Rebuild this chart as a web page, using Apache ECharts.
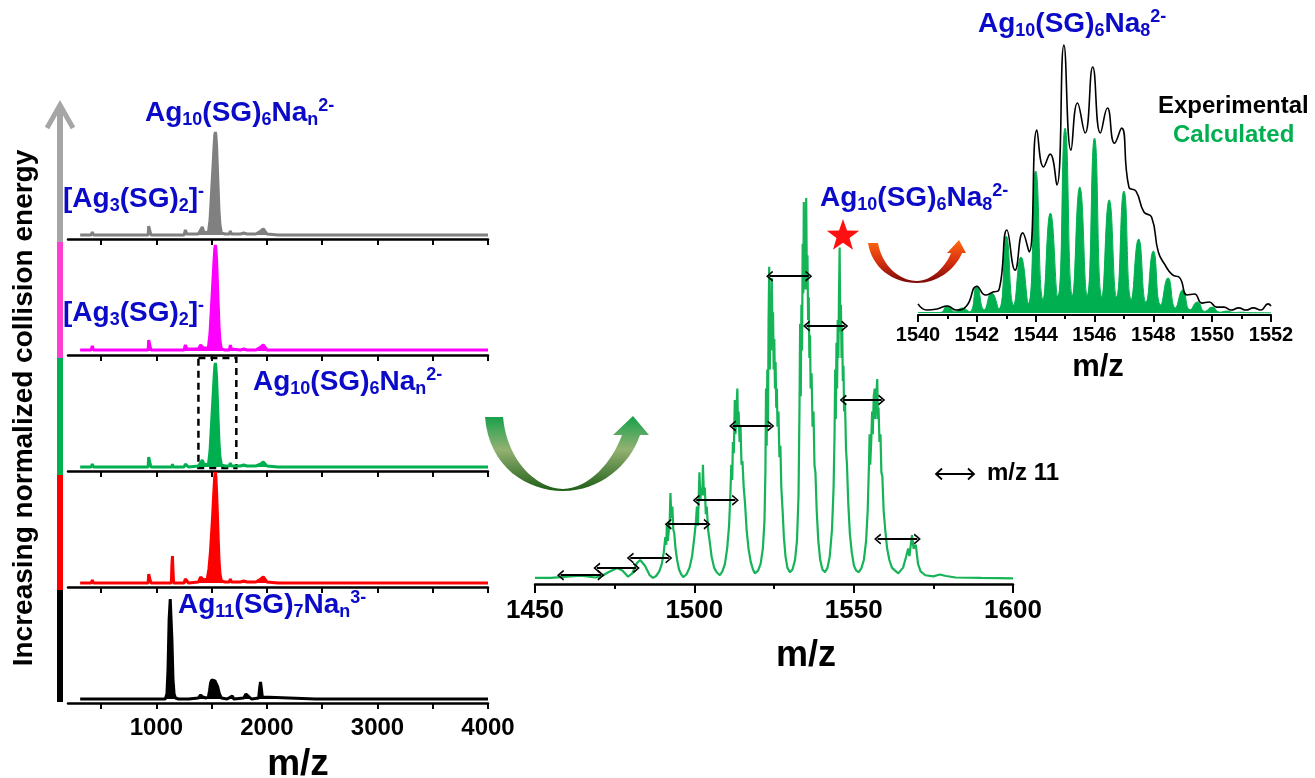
<!DOCTYPE html>
<html><head><meta charset="utf-8">
<script src="https://cdn.jsdelivr.net/npm/echarts@6/dist/echarts.min.js"></script>
<style>html,body{margin:0;padding:0;background:#fff;}#c{width:1315px;height:778px;}</style>
</head><body><div id="c"></div>
<script>
// ---------- DATA ----------
// Left panel: five stacked spectra, [m/z, intensity]
const specGray = [[310,0],[410,0],[420,3],[430,0],[600,0],[606,1],[612,0],[925,0],[930,9],[945,8],[950,0],[1140,0],[1145,2],[1150,0],[1250,0],[1262,5],[1275,1],[1290,0],[1380,1],[1400,5],[1415,8],[1428,3],[1445,1],[1470,2],[1485,15],[1495,35],[1505,55],[1515,75],[1522,90],[1528,100],[1533,103],[1538,100],[1544,90],[1550,72],[1558,48],[1566,25],[1575,10],[1588,2],[1620,1],[1660,1],[1669,4],[1678,1],[1760,1],[1790,2],[1820,1],[1900,1],[1945,4],[1967,6],[1985,4],[2000,1],[2100,0],[3100,0],[3110,1],[3120,0],[4000,0]];
const specMagenta = [[310,1],[410,1],[420,5],[430,1],[600,1],[606,2],[612,1],[925,1],[930,11],[945,9],[950,1],[1140,1],[1145,3],[1150,1],[1250,1],[1262,6],[1275,2],[1290,1],[1380,2],[1400,6],[1415,8],[1428,3],[1445,1],[1470,3],[1485,18],[1495,38],[1505,58],[1515,78],[1522,92],[1528,102],[1533,106],[1538,102],[1544,92],[1550,74],[1558,50],[1566,26],[1575,10],[1588,2],[1620,1],[1660,1],[1669,6],[1678,2],[1760,1],[1790,2],[1820,1],[1900,1],[1945,4],[1967,6],[1985,4],[2000,1],[2100,1],[3100,1],[3110,2],[3120,1],[4000,1]];
const specGreen = [[310,0],[410,0],[420,3],[430,0],[600,0],[606,1],[612,0],[820,0],[826,2],[832,0],[925,0],[930,10],[945,9],[950,0],[1140,0],[1145,3],[1150,0],[1250,0],[1262,3],[1275,1],[1290,0],[1380,1],[1400,4],[1415,7],[1428,3],[1445,1],[1470,2],[1485,16],[1495,36],[1505,56],[1515,76],[1522,90],[1528,100],[1533,104],[1538,100],[1544,90],[1550,72],[1558,48],[1566,25],[1575,10],[1588,2],[1620,1],[1660,1],[1669,4],[1678,1],[1760,1],[1790,2],[1820,1],[1900,1],[1945,3],[1967,5],[1985,3],[2000,1],[2100,0],[3100,0],[3110,1],[3120,0],[4000,0]];
const specRed = [[310,0],[410,0],[420,3],[430,0],[600,0],[606,1],[612,0],[820,0],[826,2],[832,0],[925,0],[930,9],[945,8],[950,0],[1135,0],[1140,18],[1145,27],[1150,12],[1156,0],[1250,0],[1262,4],[1280,5],[1290,0],[1380,1],[1400,6],[1415,8],[1428,3],[1445,1],[1460,4],[1475,14],[1488,30],[1498,48],[1508,66],[1518,88],[1526,104],[1533,111],[1538,106],[1544,92],[1550,74],[1558,48],[1566,24],[1575,9],[1588,2],[1620,1],[1660,1],[1669,4],[1678,1],[1760,1],[1790,2],[1820,1],[1900,1],[1945,4],[1967,6],[1985,4],[2000,1],[2100,0],[3100,0],[3110,1],[3120,0],[4000,0]];
const specBlack = [[310,0],[600,0],[606,1],[612,0],[1060,0],[1080,0],[1095,5],[1105,30],[1115,80],[1125,100],[1130,98],[1140,60],[1150,20],[1160,5],[1172,1],[1200,0],[1270,0],[1280,2],[1290,0],[1380,1],[1400,4],[1420,2],[1450,1],[1470,2],[1480,8],[1490,16],[1500,19],[1515,19],[1530,18],[1545,16],[1555,12],[1570,5],[1588,1],[1640,0],[1686,3],[1700,0],[1790,1],[1810,5],[1822,6],[1840,2],[1860,0],[1925,1],[1935,12],[1942,17],[1950,10],[1958,2],[1975,0],[2440,0],[2455,1],[2470,0],[4000,0]];
const leftTickVals = [500,1000,1500,2000,2500,3000,3500,4000];
const leftLabelVals = [1000,2000,3000,4000];

// Middle panel: zoomed spectrum 1450-1600
const midSpectrum = [
[1450,0.3],[1455,0.3],[1458,0.5],[1461,0.7],[1464.5,0.9],[1467,0.6],[1469,0.4],[1471,0.8],[1473,1.8],[1475.8,2.9],[1477.5,2.2],[1479.2,0.6],[1480.5,1.5],[1482,4.2],[1483,5],[1484.5,3.5],[1486,1.0],[1487,0.3],
[1488,0.8],[1489,2],[1489.8,4],[1490.4,7],[1490.9,11],[1491.2,9],[1491.4,14.7],[1491.7,10],[1492,13],[1492.3,16],[1492.5,22.6],[1492.8,16],[1493.1,19],[1493.4,13],[1493.7,12],[1494.1,8],[1494.6,5],[1495.2,2.5],[1495.9,1.2],[1496.5,0.5],
[1497.5,1.2],[1498.5,3],[1499.3,6],[1500,11],[1500.5,15],[1500.8,19],[1501.1,14],[1501.4,22],[1501.6,28],[1501.9,21],[1502.2,24],[1502.5,22],[1502.7,30],[1503,22],[1503.3,24],[1503.6,17],[1503.9,19],[1504.3,13],[1504.8,10],[1505.4,6],[1506.2,3],[1507,1.8],[1508,1.0],
[1508.8,2],[1509.6,4],[1510.3,8],[1510.9,14],[1511.3,22],[1511.6,30],[1511.9,26],[1512.1,36],[1512.4,33],[1512.7,47],[1512.9,38],[1513.2,44],[1513.5,50],[1513.7,40],[1513.9,44],[1514.2,36],[1514.5,40],[1514.8,30],[1515.1,31],[1515.5,24],[1515.9,20],[1516.4,13],[1517,8],[1517.7,4.5],[1518.4,2.5],[1519,1.5],
[1520,2.2],[1520.8,4],[1521.5,8],[1522,15],[1522.3,28],[1522.5,50],[1522.7,35],[1522.9,55],[1523.1,40],[1523.3,68],[1523.5,82],[1523.7,55],[1523.9,74],[1524.1,60],[1524.3,79],[1524.5,66],[1524.7,70],[1524.9,55],[1525.1,63],[1525.3,50],[1525.5,57],[1525.7,45],[1525.9,50],[1526.1,40],[1526.4,44],[1526.7,32],[1527,35],[1527.3,24],[1527.7,18],[1528.1,11],[1528.6,6],[1529.2,3],[1530,1.8],
[1530.8,2.5],[1531.6,5],[1532.2,10],[1532.7,22],[1533,45],[1533.2,67],[1533.4,48],[1533.6,72],[1533.8,60],[1534,88],[1534.2,75],[1534.35,99],[1534.5,80],[1534.7,90],[1534.9,76],[1535.1,100],[1535.3,80],[1535.5,85],[1535.7,68],[1535.9,74],[1536.1,58],[1536.3,64],[1536.5,50],[1536.8,54],[1537.1,40],[1537.4,44],[1537.7,30],[1538,28],[1538.4,18],[1538.9,10],[1539.5,5],[1540.2,2.5],[1541,1.8],
[1541.8,3],[1542.5,6],[1543.2,13],[1543.7,24],[1544,38],[1544.2,55],[1544.4,42],[1544.6,62],[1544.8,50],[1545,68],[1545.2,58],[1545.4,75],[1545.6,87],[1545.8,65],[1546,72],[1546.2,58],[1546.4,66],[1546.6,52],[1546.8,56],[1547,44],[1547.3,46],[1547.6,34],[1547.9,30],[1548.3,20],[1548.8,12],[1549.4,7],[1550.1,3.5],[1550.8,2.2],[1551.6,1.8],
[1552.4,2.8],[1553.2,5],[1553.9,10],[1554.4,18],[1554.8,30],[1555,38],[1555.2,30],[1555.5,36],[1555.8,44],[1556,38],[1556.3,48],[1556.6,50],[1556.8,42],[1557.1,48],[1557.4,52.5],[1557.6,42],[1557.8,45],[1558.1,36],[1558.4,38],[1558.7,28],[1559,27],[1559.4,18],[1559.9,13],[1560.5,8],[1561.2,5],[1562,3],[1563,2.2],[1564,1.5],
[1565.5,3],[1566.5,6],[1567.1,8],[1567.5,6],[1568.3,11.5],[1568.8,8],[1569.5,9],[1570.2,4],[1571,2],[1572.5,1],[1575,0.7],[1577,1.2],[1579,0.8],[1582,0.4],[1590,0.3],[1600,0.2]
];
// spacing arrows (m/z 11) : [from, to, height]
const spacingArrows = [[1458,1470.7,1.0],[1469.4,1481.8,2.9],[1479.9,1492,5.5],[1491.8,1504,14.4],[1500.6,1512.9,20.7],[1512,1524,40.2],[1523.6,1535.9,79.5],[1535.2,1547.2,66.4],[1546.7,1558.8,47],[1557.5,1570,10.5]];

// Inset: experimental (line) and calculated (filled)
const expMz  = [1540,1540.3,1540.65,1541,1541.3,1541.65,1542,1542.3,1542.55,1542.75,1543.02,1543.3,1543.56,1543.78,1544.04,1544.27,1544.49,1544.72,1544.96,1545.2,1545.42,1545.68,1545.94,1546.2,1546.44,1546.68,1546.92,1547.17,1547.41,1547.68,1547.94,1548.17,1548.4,1548.65,1548.9,1549.15,1549.4,1549.65,1549.9,1550.15,1550.4,1550.65,1550.9,1551.15,1551.4,1551.65,1551.9,1552];
const expInt = [3.4,1.1,1.5,2.6,1.1,2.6,10,6.7,7.8,8.6,31,16,29.9,22.8,68.3,54.5,59.3,47.8,100,60.8,78.4,67.2,91.8,67.2,76.5,63.4,69,47,45.5,37.7,35.8,22.8,17.9,14.2,13.1,6.7,7.1,3.7,4.1,2.2,2.2,1.1,1.9,1.1,1.9,1.1,3.4,2.6];
const calcMz  = [1541,1541.5,1542,1542.5,1543,1543.5,1544,1544.5,1545,1545.5,1546,1546.5,1547,1547.5,1548,1548.5,1549,1549.5,1550,1550.5,1551];
const calcInt = [2.6,1.9,10,7.5,28.7,20.9,53,37.3,69,47,65.3,42.2,45.5,27.6,23.1,13.1,8.6,4.1,2.2,0.7,0.3];
// minima of the calculated envelope, one before each calculated peak
const calcValley = [0.2,0.4,0.5,1.2,1.5,3,3.5,5,6,6.5,6.5,6,6,5,4,3,2,1.2,0.6,0.3,0.2];

// ---------- CHART ----------
const F = 'Liberation Sans, Arial, sans-serif';
const BLUE = '#0a0ac8';
echarts.graphic.registerShape('greenArrow', echarts.graphic.extendPath('M485,417 C489,468 528,491 563,491 C600,491 630,465 640,435 L649,435 L633,416 L613,435 L622,435 C612,462 590,488 563,489 C535,488 507,460 503,417 Z'));
echarts.graphic.registerShape('redArrow', echarts.graphic.extendPath('M868,243 C872,268 893,283 917,283 C937,283 955,270 962,253 L966,253 L959,240 L947,253 L951,253 C946,266 932,281 917,281 C900,281 882,266 878,243 Z'));
const chart = echarts.init(document.getElementById('c'), null, {renderer:'canvas'});

const leftSpecs = [specGray, specMagenta, specGreen, specRed, specBlack];
const leftColors = ['#808080','#ff00ff','#00b050','#ff0000','#000000'];
const axisYs = [239,355,471,587,703];
const plainNum = v => String(v);

const grids = [], xAxes = [], yAxes = [], series = [];
leftSpecs.forEach((d,i)=>{
  grids.push({left:68, width:420, top:axisYs[i]-116, height:116});
  xAxes.push({gridIndex:i, type:'value', min:200, max:4000,
    axisLine:{show:true, onZero:false, lineStyle:{color:'#000', width:2.5}},
    axisTick:{show:true, length:6, lineStyle:{color:'#000', width:2}, customValues:leftTickVals},
    axisLabel:{show:i===4, customValues:leftLabelVals, formatter:plainNum, color:'#000', fontFamily:F, fontWeight:'bold', fontSize:24, margin:13},
    splitLine:{show:false}});
  yAxes.push({gridIndex:i, type:'value', min:-4, max:112, show:false});
  const s = {type:'line', xAxisIndex:i, yAxisIndex:i, data:d, symbol:'none', silent:true,
    lineStyle:{color:leftColors[i], width:3}, areaStyle:{color:leftColors[i], opacity:1}};
  if (i===2) {
    s.markArea = {silent:true, itemStyle:{color:'rgba(0,0,0,0)', borderColor:'#000', borderWidth:2.5, borderType:[7,5]},
      data:[[{coord:[1380,109]},{coord:[1723,-1]}]]};
  }
  series.push(s);
});

// middle
grids.push({left:535, width:478, top:184, height:400});
xAxes.push({gridIndex:5, type:'value', min:1450, max:1600, interval:50,
  axisLine:{show:true, onZero:false, lineStyle:{color:'#000', width:2.5}},
  axisTick:{show:true, length:9, lineStyle:{color:'#000', width:2}},
  minorTick:{show:true, splitNumber:2, length:5, lineStyle:{color:'#000', width:2}},
  axisLabel:{formatter:plainNum, color:'#000', fontFamily:F, fontWeight:'bold', fontSize:26, margin:14},
  splitLine:{show:false}});
yAxes.push({gridIndex:5, type:'value', min:-1.3, max:103.7, show:false});
const chevron = 'path://M0,10 L6,0 L12,10 L10.2,11 L6,3.6 L1.8,11 Z';
series.push({type:'line', xAxisIndex:5, yAxisIndex:5, data:midSpectrum, symbol:'none', silent:true,
  lineStyle:{color:'#14b457', width:2.2},
  markLine:{silent:true, symbol:[chevron, chevron], symbolSize:[11,7], label:{show:false},
    lineStyle:{color:'#000', width:1.8, type:'solid'},
    data: spacingArrows.map(a=>[{coord:[a[0],a[2]]},{coord:[a[1],a[2]]}])}
});

// inset
grids.push({left:918, width:353, top:40, height:275});
xAxes.push({gridIndex:6, type:'value', min:1540, max:1552, interval:2,
  axisLine:{show:true, onZero:false, lineStyle:{color:'#000', width:2}},
  axisTick:{show:true, length:7, lineStyle:{color:'#000', width:2}},
  minorTick:{show:true, splitNumber:2, length:4, lineStyle:{color:'#000', width:2}},
  axisLabel:{formatter:plainNum, color:'#000', fontFamily:F, fontWeight:'bold', fontSize:20, margin:10},
  splitLine:{show:false}});
yAxes.push({gridIndex:6, type:'value', min:-0.75, max:101.9, show:false});
const calcData = [[1540,0.2]];
calcMz.forEach((m,i)=>{ calcData.push([m-0.25,calcValley[i]]); calcData.push([m,calcInt[i]]); });
calcData.push([1551.25,0.1]); calcData.push([1552,0.1]);
series.push({type:'line', xAxisIndex:6, yAxisIndex:6, data:calcData, symbol:'none', silent:true, smooth:0.55,
  lineStyle:{color:'#00b050', width:1}, areaStyle:{color:'#00b050', opacity:1}});
series.push({type:'line', xAxisIndex:6, yAxisIndex:6, data:expMz.map((m,i)=>[m,expInt[i]]), symbol:'none', silent:true, smooth:0.5,
  lineStyle:{color:'#000', width:1.6}});

// ---------- annotations ----------
const rich = (fs, sub, col) => ({
  m:{fontSize:fs, fontWeight:'bold', fontFamily:F, fill:col, lineHeight:fs+4},
  s:{fontSize:sub, fontWeight:'bold', fontFamily:F, fill:col, lineHeight:sub, verticalAlign:'bottom'},
  p:{fontSize:sub, fontWeight:'bold', fontFamily:F, fill:col, lineHeight:sub, verticalAlign:'top'}
});
function label(x, y, text) {
  return {type:'text', x:x, y:y, silent:true, z:100, style:{text:text, rich:rich(28,18,BLUE), align:'left', verticalAlign:'middle', font:'bold 28px '+F, fill:BLUE}};
}
function plain(x, y, text, size, col, align, rot) {
  return {type:'text', x:x, y:y, rotation:rot||0, silent:true, z:100, style:{text:text, font:'bold '+size+'px '+F, fill:col, align:align||'center', verticalAlign:'middle'}};
}
const agNan = '{m|Ag}{s|10}{m|(SG)}{s|6}{m|Na}{s|n}{p|2-}';
const agNa8 = '{m|Ag}{s|10}{m|(SG)}{s|6}{m|Na}{s|8}{p|2-}';
const ag3 = '{m|[Ag}{s|3}{m|(SG)}{s|2}{m|]}{p|-}';
const ag11 = '{m|Ag}{s|11}{m|(SG)}{s|7}{m|Na}{s|n}{p|3-}';

const graphic = [
  {type:'rect', shape:{x:57,y:106,width:6,height:136}, style:{fill:'#a6a6a6'}, silent:true},
  {type:'rect', shape:{x:57,y:242,width:6,height:116}, style:{fill:'#ff3fcf'}, silent:true},
  {type:'rect', shape:{x:57,y:358,width:6,height:117}, style:{fill:'#00b050'}, silent:true},
  {type:'rect', shape:{x:57,y:475,width:6,height:115}, style:{fill:'#ff0000'}, silent:true},
  {type:'rect', shape:{x:57,y:590,width:6,height:112}, style:{fill:'#000000'}, silent:true},
  {type:'polyline', shape:{points:[[47,128],[60,105],[73,128]]}, style:{stroke:'#a6a6a6', lineWidth:5, fill:null}, silent:true},
  plain(24, 408, 'Increasing normalized collision energy', 28, '#000', 'center', Math.PI/2),
  plain(298, 765, 'm/z', 37, '#000'),
  plain(806, 656, 'm/z', 36, '#000'),
  plain(1098, 367, 'm/z', 31, '#000'),
  label(145, 113, agNan),
  label(63, 199, ag3),
  label(63, 313, ag3),
  label(253, 382, agNan),
  label(178, 605, ag11),
  label(820, 198, agNa8),
  label(978, 24, agNa8),
  plain(1158, 106, 'Experimental', 24, '#000', 'left'),
  plain(1173, 135, 'Calculated', 24, '#00b050', 'left'),
  plain(987, 473, 'm/z 11', 24, '#000', 'left'),
  {type:'line', shape:{x1:936,y1:474,x2:974,y2:474}, style:{stroke:'#000', lineWidth:1.8}, silent:true},
  {type:'polyline', shape:{points:[[942,468.5],[936,474],[942,479.5]]}, style:{stroke:'#000', lineWidth:1.8, fill:null}, silent:true},
  {type:'polyline', shape:{points:[[968,468.5],[974,474],[968,479.5]]}, style:{stroke:'#000', lineWidth:1.8, fill:null}, silent:true},
  {type:'polygon', shape:{points:[[843,219],[847,230.5],[859.2,230.7],[849.5,238.1],[853,249.8],[843,242.8],[833,249.8],[836.5,238.1],[826.8,230.7],[839,230.5]]}, style:{fill:'#ff1010'}, silent:true},
  {type:'greenArrow', silent:true,
   style:{fill:new echarts.graphic.LinearGradient(0,0,0,1,[{offset:0,color:'#15a04a'},{offset:0.45,color:'#93b172'},{offset:1,color:'#1e5e16'}])}},
  {type:'redArrow', silent:true,
   style:{fill:new echarts.graphic.LinearGradient(0,0,0,1,[{offset:0,color:'#ff6a12'},{offset:0.5,color:'#d8300f'},{offset:1,color:'#7a0808'}])}}
];

chart.setOption({animation:false, grid:grids, xAxis:xAxes, yAxis:yAxes, series:series, graphic:graphic});
</script></body></html>
